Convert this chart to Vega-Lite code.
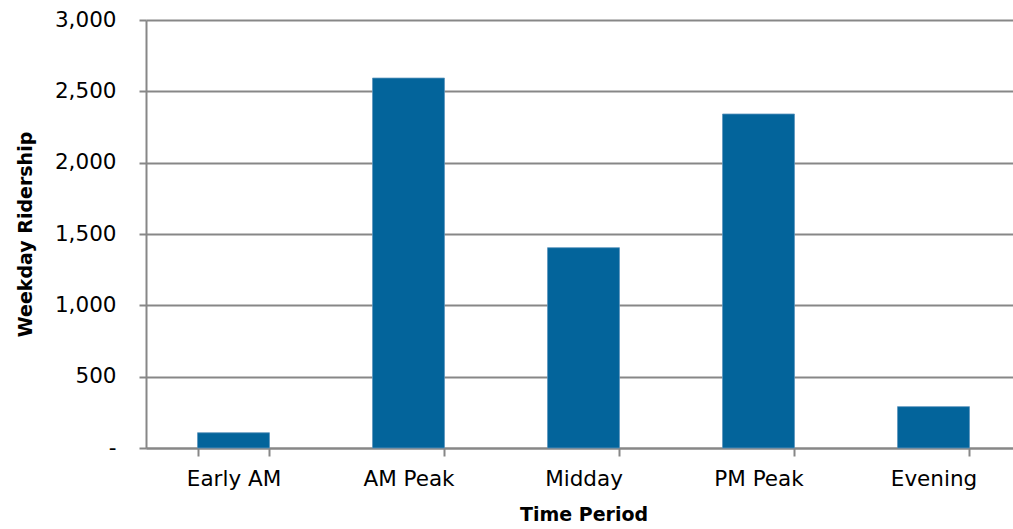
{
  "$schema": "https://vega.github.io/schema/vega-lite/v6.json",
  "width": 875,
  "height": 428,
  "autosize": {"type": "none"},
  "padding": {"left": 146, "top": 20, "right": 0, "bottom": 81},
  "background": "white",
  "data": {
    "values": [
      {"period": "Early AM", "riders": 107},
      {"period": "AM Peak", "riders": 2593},
      {"period": "Midday", "riders": 1404},
      {"period": "PM Peak", "riders": 2341},
      {"period": "Evening", "riders": 290}
    ]
  },
  "config": {
    "view": {"stroke": null},
    "font": "DejaVu Sans"
  },
  "mark": {"type": "bar", "color": "#03649B", "stroke": "#5B93BC", "strokeWidth": 0.8},
  "encoding": {
    "x": {
      "field": "period",
      "type": "nominal",
      "sort": null,
      "scale": {"paddingInner": 0.589, "paddingOuter": 0.2945},
      "axis": {
        "title": "Time Period",
        "titleFont": "DejaVu Sans",
        "titleFontSize": 19,
        "titleFontWeight": "bold",
        "titleColor": "#000000",
        "titlePadding": 16,
        "labelAngle": 0,
        "labelFont": "DejaVu Sans",
        "labelFontSize": 21.5,
        "labelColor": "#000000",
        "labelPadding": 12,
        "tickBand": "extent",
        "tickSize": 8,
        "tickColor": "#878787",
        "tickWidth": 2,
        "domainColor": "#878787",
        "domainWidth": 2
      }
    },
    "y": {
      "field": "riders",
      "type": "quantitative",
      "scale": {"domain": [0, 3000], "nice": false},
      "axis": {
        "title": "Weekday Ridership",
        "titleFont": "DejaVu Sans",
        "titleFontSize": 19,
        "titleFontWeight": "bold",
        "titleColor": "#000000",
        "titlePadding": 19,
        "values": [0, 500, 1000, 1500, 2000, 2500, 3000],
        "labelExpr": "datum.value == 0 ? '-' : format(datum.value, ',')",
        "labelFont": "DejaVu Sans",
        "labelFontSize": 21.5,
        "labelColor": "#000000",
        "labelPadding": 23,
        "tickSize": 7,
        "tickColor": "#878787",
        "tickWidth": 2,
        "domainColor": "#878787",
        "domainWidth": 2,
        "grid": true,
        "gridColor": "#878787",
        "gridWidth": 2
      }
    }
  }
}
